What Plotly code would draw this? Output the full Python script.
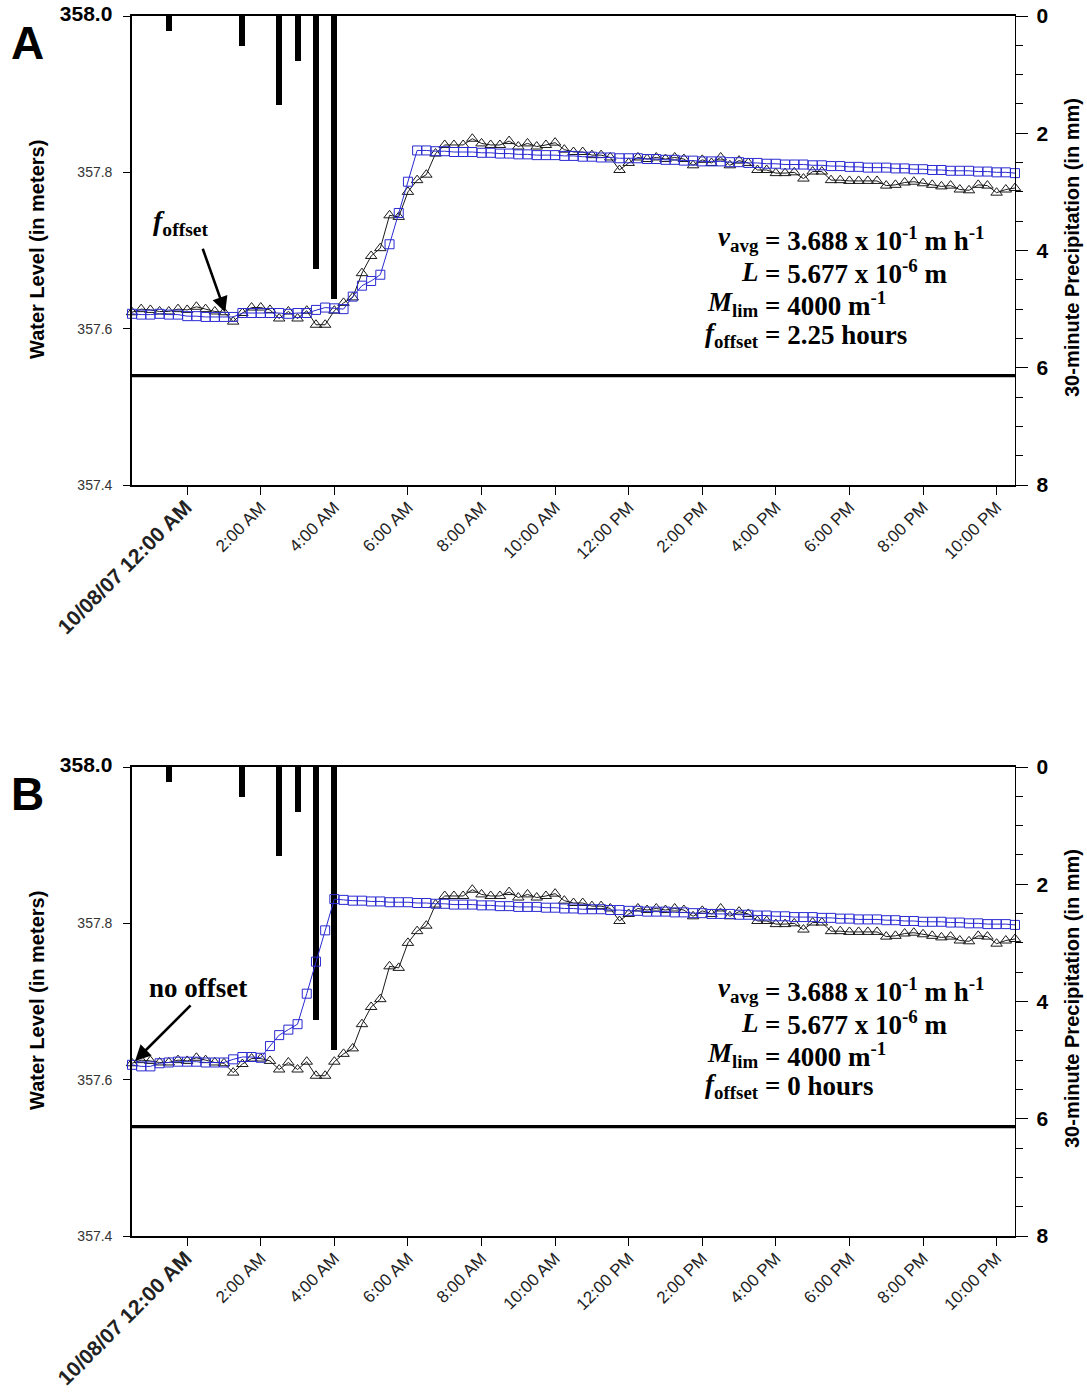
import plotly.graph_objects as go
import pandas as pd

# ---------------- data ----------------
times = pd.date_range("2007-10-07 22:30", periods=97, freq="15min")

observed = [
    357.621, 357.625, 357.624, 357.622, 357.622, 357.625, 357.624, 357.628,
    357.625, 357.622, 357.621, 357.609, 357.620, 357.627, 357.627, 357.624,
    357.613, 357.622, 357.613, 357.623, 357.605, 357.605, 357.623, 357.633,
    357.640, 357.671, 357.693, 357.703, 357.745, 357.743, 357.775, 357.790,
    357.797, 357.824, 357.835, 357.835, 357.835, 357.843, 357.837, 357.835,
    357.835, 357.840, 357.833, 357.837, 357.833, 357.835, 357.838, 357.829,
    357.826, 357.826, 357.822, 357.822, 357.819, 357.803, 357.812, 357.819,
    357.817, 357.819, 357.817, 357.819, 357.817, 357.809, 357.816, 357.812,
    357.819, 357.809, 357.815, 357.812, 357.803, 357.803, 357.799, 357.799,
    357.800, 357.792, 357.801, 357.801, 357.790, 357.790, 357.789, 357.789,
    357.789, 357.789, 357.783, 357.784, 357.787, 357.788, 357.786, 357.784,
    357.782, 357.783, 357.778, 357.777, 357.784, 357.783, 357.774, 357.778,
    357.780,
]

model_a = [
    357.619, 357.618, 357.618, 357.619, 357.618, 357.618, 357.616, 357.616,
    357.615, 357.615, 357.615, 357.615, 357.620, 357.620, 357.620, 357.620,
    357.620, 357.619, 357.620, 357.620, 357.624, 357.627, 357.626, 357.625,
    357.641, 357.655, 357.661, 357.669, 357.708, 357.748, 357.788, 357.828,
    357.828, 357.827, 357.827, 357.826, 357.826, 357.826, 357.825, 357.825,
    357.824, 357.824, 357.823, 357.823, 357.822, 357.822, 357.822, 357.821,
    357.821, 357.820, 357.820, 357.819, 357.819, 357.818, 357.818, 357.818,
    357.817, 357.817, 357.816, 357.816, 357.815, 357.815, 357.814, 357.814,
    357.814, 357.813, 357.813, 357.812, 357.812, 357.811, 357.811, 357.810,
    357.810, 357.810, 357.809, 357.809, 357.808, 357.808, 357.807, 357.807,
    357.806, 357.806, 357.806, 357.805, 357.805, 357.804, 357.804, 357.803,
    357.803, 357.802, 357.802, 357.802, 357.801, 357.801, 357.800, 357.800,
    357.799,
]

model_b = [
    357.619, 357.617, 357.617, 357.621, 357.622, 357.623, 357.623, 357.623,
    357.622, 357.622, 357.622, 357.626, 357.629, 357.629, 357.628, 357.643,
    357.657, 357.664, 357.671, 357.710, 357.751, 357.791, 357.831, 357.830,
    357.829, 357.829, 357.828, 357.828, 357.827, 357.827, 357.827, 357.826,
    357.826, 357.825, 357.825, 357.824, 357.824, 357.824, 357.823, 357.823,
    357.822, 357.822, 357.821, 357.821, 357.821, 357.820, 357.820, 357.819,
    357.819, 357.818, 357.818, 357.818, 357.817, 357.817, 357.816, 357.816,
    357.815, 357.815, 357.815, 357.814, 357.814, 357.813, 357.813, 357.812,
    357.812, 357.812, 357.811, 357.811, 357.810, 357.810, 357.809, 357.809,
    357.808, 357.808, 357.808, 357.807, 357.807, 357.806, 357.806, 357.805,
    357.805, 357.805, 357.804, 357.804, 357.803, 357.803, 357.802, 357.802,
    357.802, 357.801, 357.801, 357.800, 357.800, 357.799, 357.799, 357.799,
    357.798,
]

precip_times = pd.to_datetime([
    "2007-10-07 23:30", "2007-10-08 01:30", "2007-10-08 02:30",
    "2007-10-08 03:00", "2007-10-08 03:30", "2007-10-08 04:00",
])
precip_mm = [0.254, 0.508, 1.524, 0.762, 4.318, 4.826]

reference_level = 357.54

x_tick_times = pd.date_range("2007-10-08 00:00", periods=12, freq="2h")
x_tick_labels = ["10/08/07 12:00 AM", "2:00 AM", "4:00 AM", "6:00 AM", "8:00 AM",
                 "10:00 AM", "12:00 PM", "2:00 PM", "4:00 PM", "6:00 PM",
                 "8:00 PM", "10:00 PM"]
wl_ticks = [357.4, 357.6, 357.8, 358.0]
wl_tick_labels = ["357.4", "357.6", "357.8", "358.0"]
precip_ticks = [0, 2, 4, 6, 8]

x_range = [pd.Timestamp("2007-10-07 22:30"), pd.Timestamp("2007-10-08 22:30")]
wl_range = [357.4, 358.0]
precip_range = [8, 0]

panels = [
    dict(name="A", model=model_a, offset_text="2.25 hours", pointer="<b><i>f</i><sub>offset</sub></b>",
         tip=(pd.Timestamp("2007-10-08 01:02"), 357.621)),
    dict(name="B", model=model_b, offset_text="0 hours", pointer="<b>no offset</b>",
         tip=(pd.Timestamp("2007-10-07 22:35"), 357.624)),
]

# ---------------- layout geometry ----------------
W, H = 1087, 1395
L_M, R_M, T_M, B_M = 132, 72, 16, 159
PW = W - L_M - R_M
PH = H - T_M - B_M


def px(xp):
    return (xp - L_M) / PW


def py(yp):
    return (H - B_M - yp) / PH


panel_tops = [16, 767]
panel_h = 469

SANS = "Liberation Sans, Arial, sans-serif"
SERIF = "Liberation Serif, Times New Roman, serif"

fig = go.Figure()
layout = dict(
    template="none",
    width=W, height=H,
    margin=dict(l=L_M, r=R_M, t=T_M, b=B_M, autoexpand=False),
    paper_bgcolor="white", plot_bgcolor="white",
    showlegend=False,
    annotations=[], shapes=[],
)

xtick_text = ["<span style='font-size:21px'><b>%s</b></span>" % x_tick_labels[0]] + x_tick_labels[1:]
wl_tick_text = wl_tick_labels[:-1] + ["<span style='font-size:21px;color:black'><b>%s</b></span>" % wl_tick_labels[-1]]

for i, p in enumerate(panels):
    top = panel_tops[i]
    bot = top + panel_h
    dom = [py(bot), py(top)]
    xa = "x" if i == 0 else "x2"
    ya_p = "y" if i == 0 else "y3"    # precipitation (base, right)
    ya_w = "y2" if i == 0 else "y4"   # water level (overlay, left)
    xkey = "xaxis" if i == 0 else "xaxis2"
    ykey_p = "yaxis" if i == 0 else "yaxis3"
    ykey_w = "yaxis2" if i == 0 else "yaxis4"

    layout[xkey] = dict(
        domain=[0, 1], anchor=ya_p, range=x_range, type="date", automargin=False,
        tickvals=list(x_tick_times), ticktext=xtick_text, tickangle=-45,
        ticks="outside", ticklen=8, tickwidth=1.2, tickcolor="black",
        showline=True, linecolor="black", linewidth=1.8, mirror=True,
        showgrid=False, zeroline=False,
        tickfont=dict(family=SANS, size=17, color="#222"),
        ticklabelstandoff=-4,
    )
    layout[ykey_p] = dict(
        domain=dom, anchor=xa, side="right", range=precip_range, automargin=False,
        tickvals=precip_ticks, ticks="outside", ticklen=12, tickwidth=1.2, tickcolor="black",
        minor=dict(dtick=0.5, ticks="outside", ticklen=7, tickcolor="black", tickwidth=1),
        showline=True, linecolor="black", linewidth=1.4,
        showgrid=False, zeroline=False,
        tickfont=dict(family=SANS, size=21, color="black", weight="bold"),
        ticklabelstandoff=4,
    )
    layout[ykey_w] = dict(
        overlaying=ya_p, anchor=xa, side="left", range=wl_range, automargin=False,
        tickvals=wl_ticks, ticktext=wl_tick_text, ticks="outside", ticklen=7,
        tickwidth=1.2, tickcolor="black",
        showline=True, linecolor="black", linewidth=1.6,
        showgrid=False, zeroline=False,
        tickfont=dict(family=SANS, size=14, color="#333"),
        ticklabelstandoff=8,
    )

    # precipitation bars (hanging from top)
    fig.add_trace(go.Bar(
        x=precip_times, y=precip_mm, xaxis=xa, yaxis=ya_p,
        width=6.0 / 36.8 * 3600 * 1000, marker=dict(color="black", line=dict(width=0)),
    ))
    # observed water level
    fig.add_trace(go.Scatter(
        x=times, y=observed, xaxis=xa, yaxis=ya_w, mode="lines+markers",
        line=dict(color="#1a1a1a", width=1),
        marker=dict(symbol="triangle-up-open", size=10, color="#1a1a1a", line=dict(width=1)),
        cliponaxis=False,
    ))
    # modelled water level
    fig.add_trace(go.Scatter(
        x=times, y=p["model"], xaxis=xa, yaxis=ya_w, mode="lines+markers",
        line=dict(color="#2a2ad2", width=1),
        marker=dict(symbol="square-open", size=9, color="#2a2ad2", line=dict(width=1)),
        cliponaxis=False,
    ))

    # reference level line
    layout["shapes"].append(dict(
        type="line", xref=xa + " domain", yref=ya_w, x0=0, x1=1,
        y0=reference_level, y1=reference_level,
        line=dict(color="black", width=3.2), layer="above",
    ))

    ann = layout["annotations"]
    off = top - 16
    # panel letter
    ann.append(dict(xref="paper", yref="paper", x=px(27), y=py(43 + off), text="<b>%s</b>" % p["name"],
                    showarrow=False, font=dict(family=SANS, size=46, color="black"),
                    xanchor="center", yanchor="middle"))
    # axis titles
    ann.append(dict(xref="paper", yref="paper", x=px(37), y=py(250 + off),
                    text="<b>Water Level (in meters)</b>", textangle=-90, showarrow=False,
                    font=dict(family=SANS, size=20, color="black"), xanchor="center", yanchor="middle"))
    ann.append(dict(xref="paper", yref="paper", x=px(1072), y=py(248 + off),
                    text="<b>30-minute Precipitation (in mm)</b>", textangle=-90, showarrow=False,
                    font=dict(family=SANS, size=20, color="black"), xanchor="center", yanchor="middle"))
    # pointer arrow
    ann.append(dict(xref=xa, yref=ya_w, x=p["tip"][0], y=p["tip"][1], text="",
                    showarrow=True, arrowhead=2, arrowsize=1.2, arrowwidth=2.6, arrowcolor="black",
                    ax=-23 if i == 0 else 57, ay=-65 if i == 0 else -57, standoff=0))
    # pointer text
    if i == 0:
        ann.append(dict(xref="paper", yref="paper", x=px(180), y=py(222 + off), text=p["pointer"],
                        showarrow=False, font=dict(family=SERIF, size=28, color="black"),
                        xanchor="center", yanchor="middle"))
    else:
        ann.append(dict(xref="paper", yref="paper", x=px(198), y=py(237 + off), text=p["pointer"],
                        showarrow=False, font=dict(family=SERIF, size=27, color="black"),
                        xanchor="center", yanchor="middle"))
    # parameter block
    left_parts = ["<b><i>v</i><sub>avg</sub></b>", "<b><i>L</i></b>",
                  "<b><i>M</i><sub>lim</sub></b>", "<b><i>f</i><sub>offset</sub></b>"]
    right_parts = ["<b>= 3.688 x 10<sup>-1</sup> m h<sup>-1</sup></b>",
                   "<b>= 5.677 x 10<sup>-6</sup> m</b>",
                   "<b>= 4000 m<sup>-1</sup></b>",
                   "<b>= %s</b>" % p["offset_text"]]
    line_y = [239, 272, 304, 335]
    for lp, rp, ly in zip(left_parts, right_parts, line_y):
        ann.append(dict(xref="paper", yref="paper", x=px(761), y=py(ly + off), text=lp,
                        showarrow=False, font=dict(family=SERIF, size=27, color="black"),
                        xanchor="right", yanchor="middle"))
        ann.append(dict(xref="paper", yref="paper", x=px(763), y=py(ly + off), text=rp,
                        showarrow=False, font=dict(family=SERIF, size=27, color="black"),
                        xanchor="left", yanchor="middle"))

fig.update_layout(**layout)
fig.update_layout(bargap=0)
fig.write_html("out.html")
